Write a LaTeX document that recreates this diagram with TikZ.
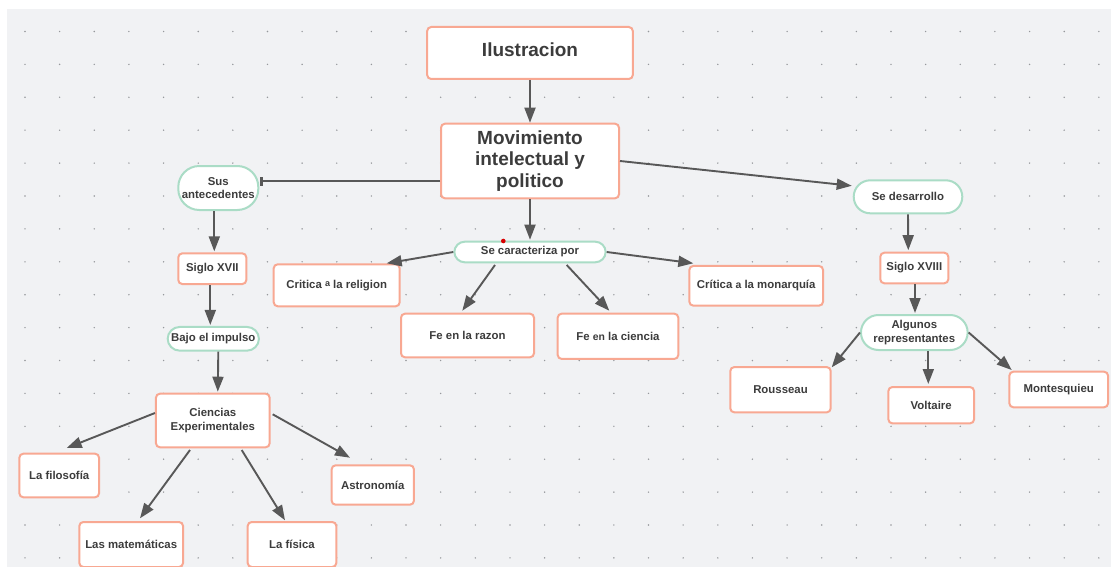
\documentclass[tikz,border=0pt]{standalone}
\usepackage{fontspec}
\setmainfont{Liberation Sans}
\usetikzlibrary{arrows.meta}
\definecolor{boxline}{RGB}{248,168,146}
\definecolor{pillline}{RGB}{170,220,198}
\definecolor{canvas}{RGB}{241,242,244}
\definecolor{gridpt}{RGB}{150,152,156}
\definecolor{ink}{RGB}{60,60,60}
\definecolor{wire}{RGB}{88,88,88}

\begin{document}
\begin{tikzpicture}[x=1pt,y=-1pt,
  every node/.style={text=ink, align=center, inner sep=0pt},
  card/.style={draw=boxline, fill=white, line width=2pt, rounded corners=4pt},
  pill/.style={draw=pillline, fill=white, line width=2pt, rounded corners=#1},
  big/.style={font=\fontsize{19}{21.7}\selectfont\bfseries},
  small/.style={font=\fontsize{11.4}{13.3}\selectfont\bfseries},
  wirearrow/.style={draw=wire, line width=1.9pt, -{Triangle[length=15pt,width=11pt]}},
  wirebar/.style={draw=wire, line width=1.9pt, -{Rectangle[length=3pt,width=9pt]}},
]
% page and dotted canvas
\useasboundingbox (0,0) rectangle (1111,567);
\fill[white] (0,0) rectangle (1111,567);
\fill[canvas] (7.3,9) rectangle (1111,567);
\foreach \i in {0,...,31}{
  \foreach \j in {0,...,16}{
    \fill[gridpt] (25+34.64*\i, 31.5+32.9*\j) circle (0.8);
  }
}

% main column
\node[card, big, minimum width=205.6pt, minimum height=52pt] (ilus) at (530,53) {\raisebox{3pt}[\height][\depth]{Ilustracion}};
\node[card, big, minimum width=178pt, minimum height=74.6pt] (mov) at (530,161) {Movimiento\\intelectual y\\politico};

% left branch
\node[pill=21pt, small, minimum width=80pt, minimum height=44pt] (sus) at (218.3,188) {Sus\\antecedentes};
\node[card, small, minimum width=68pt, minimum height=30.7pt] (sxvii) at (212.3,268.7) {Siglo XVII};
\node[pill=12pt, small, minimum width=91.3pt, minimum height=23.7pt] (bajo) at (213.3,338.8) {Bajo el impulso};
\node[card, small, minimum width=113.7pt, minimum height=53.6pt] (cien) at (212.8,420.5) {Ciencias\\Experimentales};
\node[card, small, minimum width=79.7pt, minimum height=43.6pt] (filo) at (59.2,475.5) {La filosofía};
\node[card, small, minimum width=103.7pt, minimum height=45pt] (mate) at (131.2,544.5) {Las matemáticas};
\node[card, small, minimum width=88.6pt, minimum height=45pt] (fisi) at (292,544.5) {La física};
\node[card, small, minimum width=82.3pt, minimum height=39.4pt] (astro) at (372.8,485) {Astronomía};

% centre branch
\node[pill=10.5pt, small, minimum width=151.4pt, minimum height=20.6pt] (secar) at (530,252) {Se caracteriza por};
\node[card, small, minimum width=126pt, minimum height=42pt] (crel) at (336.7,285.3) {Critica \raisebox{1.5pt}{\fontsize{9}{9}\selectfont a} la religion};
\node[card, small, minimum width=133pt, minimum height=43.6pt] (frazon) at (467.5,335.5) {Fe en la razon};
\node[card, small, minimum width=120.6pt, minimum height=45.3pt] (fcien) at (618,336.3) {Fe {\fontsize{10.4}{12}\selectfont en} la ciencia};
\node[card, small, minimum width=133.7pt, minimum height=39.7pt] (cmon) at (756.2,285.8) {Crítica {\fontsize{10.4}{12}\selectfont a} la monarquía};

% right branch
\node[pill=16.5pt, small, minimum width=108.6pt, minimum height=33pt] (sedes) at (908,196.8) {Se desarrollo};
\node[card, small, minimum width=68pt, minimum height=30.6pt] (sxviii) at (914.3,268) {Siglo XVIII};
\node[pill=17.5pt, small, minimum width=106.7pt, minimum height=35pt] (alg) at (914.3,332.5) {Algunos\\representantes};
\node[card, small, minimum width=100.4pt, minimum height=45.3pt] (rous) at (780.5,389.7) {Rousseau};
\node[card, small, minimum width=85.7pt, minimum height=36.3pt] (volt) at (931.2,405.2) {Voltaire};
\node[card, small, minimum width=98.7pt, minimum height=35.6pt] (mont) at (1058.7,389.5) {Montesquieu};

% marker on the pill border
\fill[red!85!black] (503.3,241) circle (2.3);

% connectors
\draw[wirearrow] (ilus.south) -- (mov.north);
\draw[wirebar] ([shift={(0,20)}]mov.west) -- ([shift={(1,-7)}]sus.east);
\draw[wirearrow] (mov.south) -- ([shift={(0,-1)}]secar.north);
\draw[wirearrow] (mov.east) -- ([shift={(-1,-11)}]sedes.west);

\draw[wirearrow] ([shift={(-4,0)}]sus.south) -- ([shift={(2,-1)}]sxvii.north);
\draw[wirearrow] ([shift={(-2,0)}]sxvii.south) -- ([shift={(-3,-1)}]bajo.north);
\draw[wirearrow] ([shift={(5,0)}]bajo.south) -- ([shift={(5,-1)}]cien.north);
\draw[wirearrow] ([shift={(0,-7.5)}]cien.west) -- ([shift={(7.5,-27.5)}]filo.center);
\draw[wirearrow] ([shift={(-22.8,29.5)}]cien.center) -- ([shift={(8.8,-26.2)}]mate.center);
\draw[wirearrow] ([shift={(28.9,29.5)}]cien.center) -- ([shift={(-7,-24.2)}]fisi.center);
\draw[wirearrow] ([shift={(59.9,-6.2)}]cien.center) -- ([shift={(-22.8,-27.3)}]astro.center);

\draw[wirearrow] (secar.west) -- ([shift={(50,-22)}]crel.center);
\draw[wirearrow] ([shift={(-35,13)}]secar.center) -- ([shift={(-5.2,-24.8)}]frazon.center);
\draw[wirearrow] ([shift={(36.7,13)}]secar.center) -- ([shift={(-8.7,-25.6)}]fcien.center);
\draw[wirearrow] (secar.east) -- ([shift={(-62.9,-22.5)}]cmon.center);

\draw[wirearrow] (sedes.south) -- ([shift={(-6,-1.5)}]sxviii.north);
\draw[wirearrow] ([shift={(0.7,0)}]sxviii.south) -- ([shift={(0.7,-1)}]alg.north);
\draw[wirearrow] (alg.west) -- ([shift={(51.2,-22.4)}]rous.center);
\draw[wirearrow] ([shift={(14,18.5)}]alg.center) -- ([shift={(-2.9,-21.2)}]volt.center);
\draw[wirearrow] (alg.east) -- ([shift={(-47,-19.5)}]mont.center);
\end{tikzpicture}
\end{document}
